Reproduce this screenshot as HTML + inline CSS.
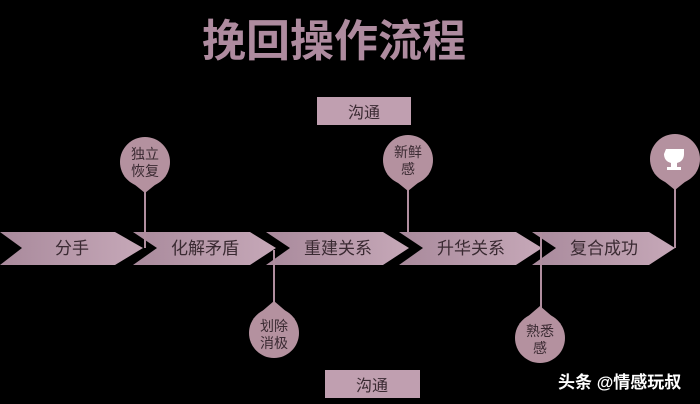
<!DOCTYPE html>
<html><head><meta charset="utf-8"><style>
html,body{margin:0;padding:0;background:#000;}
svg{display:block;font-family:"Liberation Sans","Noto Sans CJK SC",sans-serif;}
</style></head><body>
<svg width="700" height="404" viewBox="0 0 700 404">
<rect width="700" height="404" fill="#000"/>
<text x="334" y="56" font-size="44" fill="#ae8b9f" text-anchor="middle" font-weight="bold">挽回操作流程</text>
<rect x="317" y="97" width="94" height="28" fill="#c09fb0"/>
<text x="364" y="118" font-size="16" fill="#3a2a32" text-anchor="middle">沟通</text>
<rect x="325" y="370" width="95" height="28" fill="#c09fb0"/>
<text x="372" y="391" font-size="16" fill="#3a2a32" text-anchor="middle">沟通</text>
<defs>
<linearGradient id="g" x1="0" x2="1" y1="0" y2="0"><stop offset="0" stop-color="#a98a9c"/><stop offset="1" stop-color="#c6a8b8"/></linearGradient>
</defs>
<g fill="url(#g)">
<polygon points="0,232 115,232 143,248 115,265 0,265 22,248"/>
<polygon points="133,232 250,232 276,248 250,265 133,265 157,248"/>
<polygon points="266,232 383,232 409,248 383,265 266,265 290,248"/>
<polygon points="399,232 516,232 542,248 516,265 399,265 423,248"/>
<polygon points="532,232 649,232 675,248 649,265 532,265 556,248"/>
</g>
<g font-size="17" fill="#3a2a32" text-anchor="middle">
<text x="72" y="254">分手</text>
<text x="205" y="254">化解矛盾</text>
<text x="338" y="254">重建关系</text>
<text x="471" y="254">升华关系</text>
<text x="604" y="254">复合成功</text>
</g>
<g stroke="#b08e9f" stroke-width="2">
<line x1="145" y1="185" x2="145" y2="248"/>
<line x1="274" y1="250" x2="274" y2="306"/>
<line x1="408" y1="182" x2="408" y2="232"/>
<line x1="541" y1="232" x2="541" y2="312"/>
<line x1="675" y1="182" x2="675" y2="248"/>
</g>
<g fill="#b4919f">
<circle cx="145" cy="162" r="25"/><polygon points="124,176 166,176 145,193"/>
<circle cx="408" cy="160" r="25"/><polygon points="387,174 429,174 408,191"/>
<circle cx="675" cy="159" r="25"/><polygon points="654,173 696,173 675,190"/>
<circle cx="274" cy="333" r="25"/><polygon points="253,319 295,319 274,301"/>
<circle cx="540" cy="338" r="25"/><polygon points="519,324 561,324 540,306"/>
</g>
<g font-size="14" fill="#3a2a32" text-anchor="middle">
<text x="145" y="159">独立</text><text x="145" y="176">恢复</text>
<text x="408" y="157">新鲜</text><text x="408" y="174">感</text>
<text x="274" y="331">划除</text><text x="274" y="348">消极</text>
<text x="540" y="336">熟悉</text><text x="540" y="353">感</text>
</g>
<g fill="#fff">
<path d="M666,149 h18 v5 q0,7 -7,9 v4 h4 v3 h-14 v-3 h4 v-4 q-7,-2 -7,-9z"/>
</g>
<text x="558" y="388" font-size="17" fill="#fff" font-weight="bold">头条 @情感玩叔</text>
</svg>
</body></html>
